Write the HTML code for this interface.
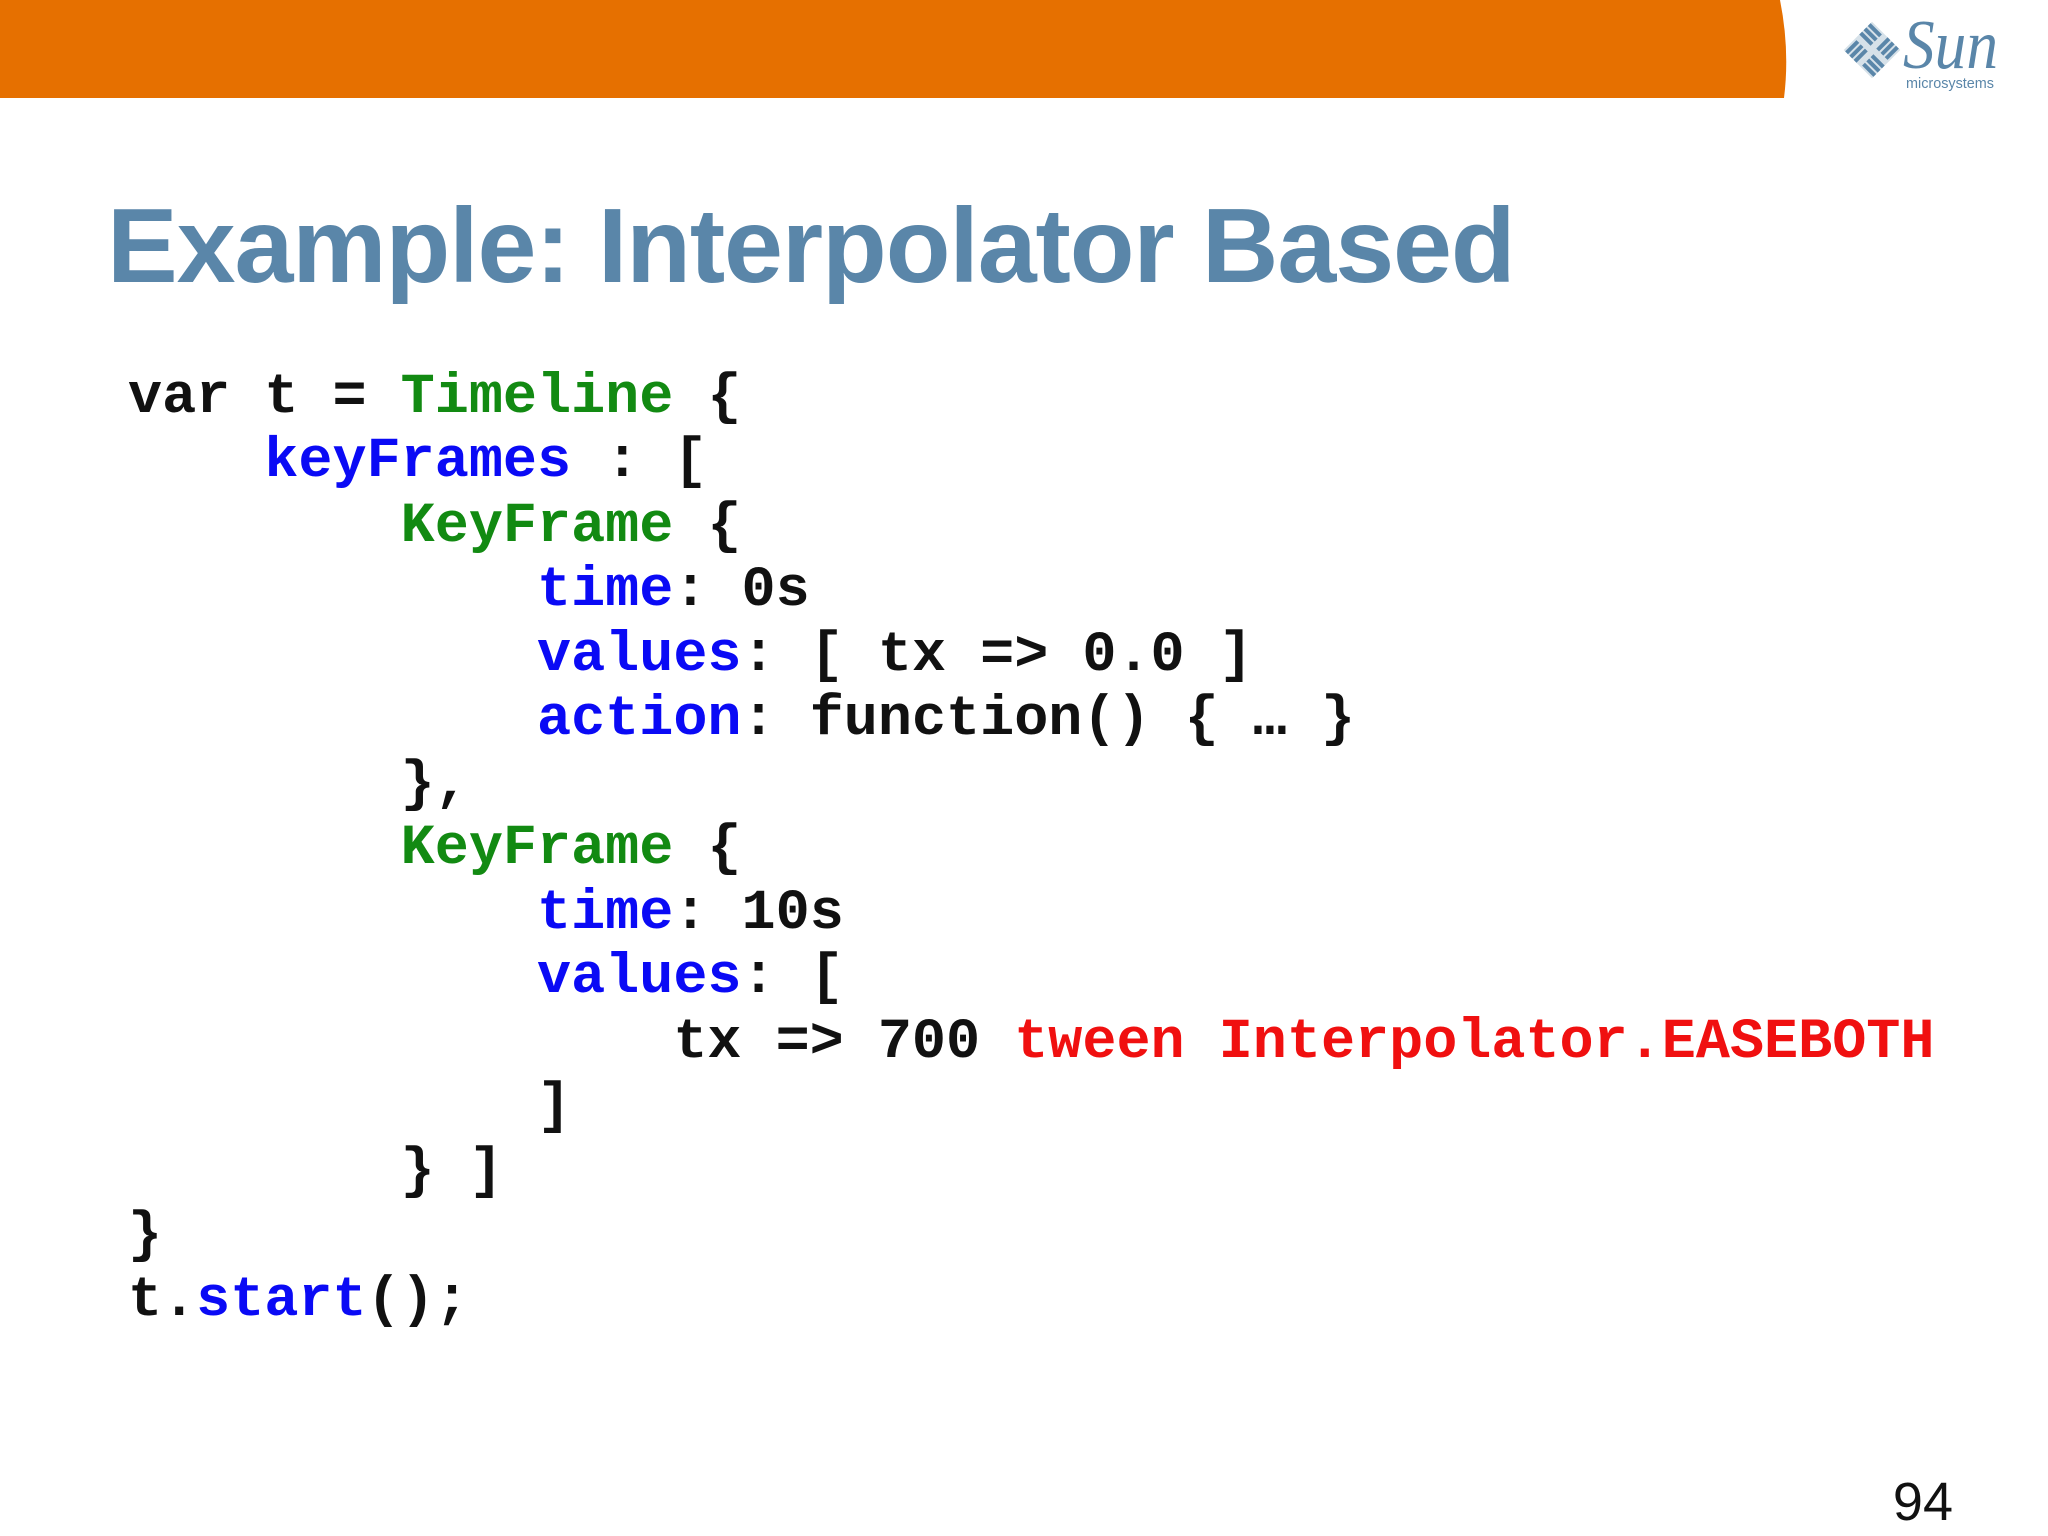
<!DOCTYPE html>
<html><head><meta charset="utf-8"><style>
html,body{margin:0;padding:0;width:2048px;height:1536px;background:#fff;overflow:hidden;position:relative}
.t{position:absolute;left:107px;top:193px;font:bold 106px "Liberation Sans",sans-serif;color:#5a86a9;letter-spacing:-1.1px;white-space:nowrap;line-height:1}
.c{position:absolute;left:128px;white-space:pre;font:bold 56.8px "Liberation Mono",monospace;color:#111;line-height:1}
.g{color:#128a12}.b{color:#0a0af5}.r{color:#f01010}
.n{position:absolute;right:95px;top:1475px;font:54px "Liberation Sans",sans-serif;color:#111;line-height:1}
</style></head><body>
<svg style="position:absolute;left:0;top:0" width="2048" height="130">
<path d="M0 0 H1780 Q1790 50 1784 98 H0 Z" fill="#e67000"/>
<g transform="translate(1872,50) rotate(45)" fill="none" stroke="#5a86a9" stroke-width="4">
<rect x="-20" y="-20" width="40" height="40" fill="#5a86a9" stroke="none" opacity="0.25"/>
<path d="M-20 -16 H-4 M-20 -10 H-4 M-20 -4 H-4 M4 -20 V-4 M10 -20 V-4 M16 -20 V-4 M4 4 H20 M4 10 H20 M4 16 H20 M-16 4 V20 M-10 4 V20 M-4 4 V20"/>
</g>
<text x="1903" y="68" font-family="Liberation Serif,serif" font-style="italic" font-size="70" fill="#5a86a9" textLength="95" lengthAdjust="spacingAndGlyphs">Sun</text>
<text x="1906" y="88" font-family="Liberation Sans,sans-serif" font-size="15" fill="#5a86a9" textLength="88" lengthAdjust="spacingAndGlyphs">microsystems</text>
</svg>
<div class="t">Example: Interpolator Based</div>
<div class="c" style="top:370px">var t = <span class="g">Timeline</span> {</div>
<div class="c" style="top:434px">    <span class="b">keyFrames</span> : [</div>
<div class="c" style="top:499px">        <span class="g">KeyFrame</span> {</div>
<div class="c" style="top:563px">            <span class="b">time</span>: 0s</div>
<div class="c" style="top:628px">            <span class="b">values</span>: [ tx =&gt; 0.0 ]</div>
<div class="c" style="top:692px">            <span class="b">action</span>: function() { … }</div>
<div class="c" style="top:757px">        },</div>
<div class="c" style="top:821px">        <span class="g">KeyFrame</span> {</div>
<div class="c" style="top:886px">            <span class="b">time</span>: 10s</div>
<div class="c" style="top:950px">            <span class="b">values</span>: [</div>
<div class="c" style="top:1015px">                tx =&gt; 700 <span class="r">tween Interpolator.EASEBOTH</span></div>
<div class="c" style="top:1079px">            ]</div>
<div class="c" style="top:1144px">        } ]</div>
<div class="c" style="top:1208px">}</div>
<div class="c" style="top:1273px">t.<span class="b">start</span>();</div>
<div class="n">94</div>
</body></html>
